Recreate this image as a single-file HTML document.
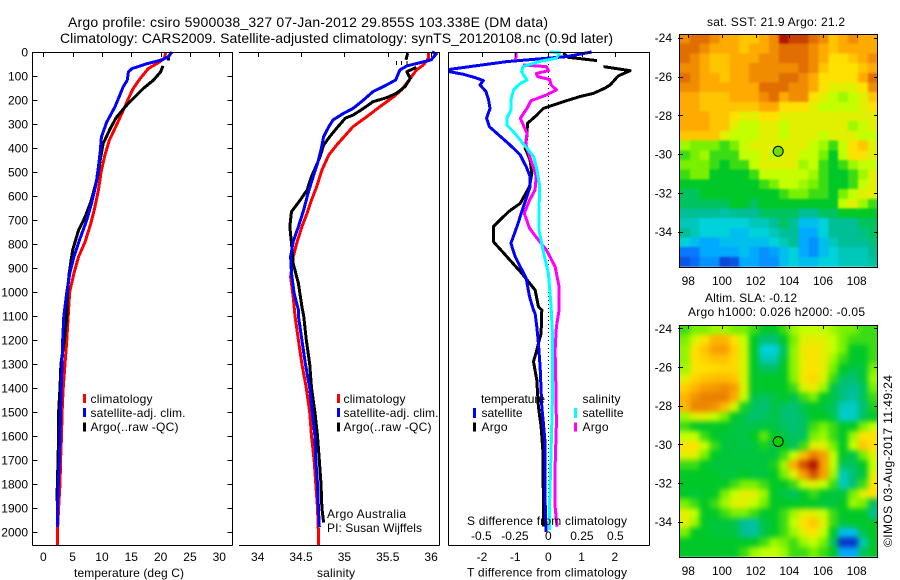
<!DOCTYPE html>
<html>
<head>
<meta charset="utf-8">
<title>Argo profile</title>
<style>
html,body{margin:0;padding:0;background:#fff;}
svg{display:block;}
text{font-family:"Liberation Sans",sans-serif;font-size:12px;fill:#000;}
.ttl{font-size:14px;}
.sm{font-size:12px;}
</style>
</head>
<body>
<svg id="chart" xmlns="http://www.w3.org/2000/svg" width="900" height="580" viewBox="0 0 900 580">
<defs>
<filter id="blurSst" filterUnits="userSpaceOnUse" x="640" y="0" width="260" height="300" color-interpolation-filters="sRGB"><feGaussianBlur stdDeviation="1"/></filter>
<filter id="blurSla" filterUnits="userSpaceOnUse" x="640" y="290" width="260" height="290" color-interpolation-filters="sRGB"><feGaussianBlur stdDeviation="2.6"/></filter>
<clipPath id="clipSst"><rect x="680" y="34" width="197.5" height="232.7"/></clipPath>
<clipPath id="clipSla"><rect x="680" y="325" width="197.5" height="231.7"/></clipPath>
</defs>
<rect x="0" y="0" width="900" height="580" fill="#fff"/>
<g id="maps"></g>
<g id="plots"></g>

<text class="ttl" x="68" y="27" textLength="480">Argo profile: csiro 5900038_327 07-Jan-2012 29.855S 103.338E (DM data)</text>
<text class="ttl" x="60" y="43" textLength="553">Climatology: CARS2009. Satellite-adjusted climatology: synTS_20120108.nc (0.9d later)</text>

<text x="74" y="577" textLength="110">temperature (deg C)</text>
<text x="317" y="577" textLength="38">salinity</text>
<text x="467" y="576.500" textLength="160">T difference from climatology</text>
<text x="467" y="525" textLength="160">S difference from climatology</text>

<g>
<rect x="83" y="394" width="3" height="9" fill="#f00"/>
<rect x="83" y="408" width="3" height="9" fill="#00f"/>
<rect x="83" y="422.500" width="3" height="9" fill="#000"/>
<text x="90.500" y="403" textLength="62">climatology</text>
<text x="90.500" y="417" textLength="95">satellite-adj. clim.</text>
<text x="90.500" y="431" textLength="88">Argo(..raw -QC)</text>
</g>
<g>
<rect x="337" y="394" width="3" height="9" fill="#f00"/>
<rect x="337" y="408" width="3" height="9" fill="#00f"/>
<rect x="337" y="422.500" width="3" height="9" fill="#000"/>
<text x="343.500" y="403" textLength="62">climatology</text>
<text x="343.500" y="417" textLength="95">satellite-adj. clim.</text>
<text x="343.500" y="431" textLength="88">Argo(..raw -QC)</text>
</g>
<g>
<text x="481" y="403" textLength="64">temperature</text>
<text x="582.500" y="403" textLength="38">salinity</text>
<rect x="473" y="408" width="3" height="10" fill="#00f"/>
<rect x="473" y="422.500" width="3" height="9" fill="#000"/>
<rect x="574" y="408" width="3" height="10" fill="#0ff"/>
<rect x="574" y="422.500" width="3" height="9" fill="#f0f"/>
<text x="481.500" y="417" textLength="41">satellite</text>
<text x="481.500" y="431" textLength="26">Argo</text>
<text x="582.500" y="417" textLength="41">satellite</text>
<text x="582.500" y="431" textLength="26">Argo</text>
</g>

<text x="327" y="518" textLength="79">Argo Australia</text>
<text x="327" y="532" textLength="95">PI: Susan Wijffels</text>

<text x="707" y="26" textLength="138">sat. SST: 21.9 Argo: 21.2</text>
<text x="705" y="302" textLength="92">Altim. SLA: -0.12</text>
<text x="688" y="316" textLength="177">Argo h1000: 0.026 h2000: -0.05</text>
<text transform="translate(892,547) rotate(-90)" x="0" y="0" textLength="172">©IMOS 03-Aug-2017 11:49:24</text>
</svg>

<script>
// ---------- axis tick values ----------
const depthTicks = [0,100,200,300,400,500,600,700,800,900,1000,1100,1200,1300,1400,1500,1600,1700,1800,1900,2000];
const tempTicks = [0,5,10,15,20,25,30];
const salTicks = [34,34.5,35,35.5,36];
const salTickLabels = ['34','34.5','35','35.5','36'];
const tDiffTicks = [-2,-1,0,1,2];
const tDiffLabels = ['-2','-1','0','1','2'];
const sDiffTicks = [-0.5,-0.25,0,0.25,0.5];
const sDiffLabels = ['-0.5','-0.25','0','0.25','0.5'];
const lonTicks = [98,100,102,104,106,108];
const latTicks = [-24,-26,-28,-30,-32,-34];

// ---------- temperature profiles ----------
const tempClimDepth = [0,28,49,69,111,153,194,250,319,368,430,493,576,646,715,792,854,924,1000,1100,1200,1300,1400,1500,1600,1700,1800,1900,2000,2054];
const tempClimValue = [20.9,20.6,19.3,17.9,16.5,15.3,14.5,13.5,12.2,11.25,10.5,9.9,9.4,8.8,8.1,7.1,6,5.2,4.5,4.25,4,3.7,3.4,3.2,3.1,2.95,2.85,2.6,2.4,2.4];
const tempSatDepth = [0,21,35,49,69,83,118,146,194,229,292,354,417,479,549,632,701,778,854,924,1000,1100,1200,1300,1400,1500,1600,1700,1800,1900,1980];
const tempSatValue = [21.9,21.3,19.9,17.6,15.1,14.5,14.3,13.6,12.8,12.2,10.8,9.9,9.7,9.4,9,8.2,7.4,6.25,5.2,4.5,4,3.5,3.3,3.2,3.05,2.95,2.85,2.75,2.55,2.4,2.4];
const tempArgoDepth = [14,35,45,58,83,118,153,187,222,271,319,382,451,521,625,688,743,826,924,1000,1100,1200,1300,1400,1500,1600,1700,1800,1870];
const tempArgoValue = [21.3,21.3,null,20.4,20,18.75,17,15.6,14.2,12.5,11.4,10.2,9.7,9.25,8.1,7.1,6,5,4.4,4.15,4,3.6,3,2.85,2.6,2.6,2.5,2.4,2.3];

// ---------- salinity profiles ----------
const salClimDepth = [0,26,54,75,110,158,186,228,269,311,388,429,492,561,617,672,728,797,853,936,1019,1100,1200,1300,1400,1500,1600,1700,1800,1900,2000,2054];
const salClimValue = [35.97,35.97,35.91,35.83,35.76,35.66,35.57,35.41,35.26,35.1,34.91,34.82,34.74,34.68,34.62,34.57,34.51,34.45,34.41,34.38,34.41,34.43,34.47,34.51,34.56,34.6,34.62,34.65,34.67,34.69,34.7,34.7];
const salSatDepth = [0,8,33,43,58,75,117,144,165,200,235,256,283,311,353,408,464,519,589,658,728,790,853,922,1005,1075,1100,1200,1300,1400,1500,1600,1700,1800,1900,1980];
const salSatValue = [36.01,36.06,36,35.89,35.72,35.64,35.59,35.45,35.33,35.22,35.1,34.99,34.87,34.82,34.76,34.73,34.69,34.64,34.58,34.53,34.47,34.41,34.38,34.39,34.42,34.47,34.47,34.51,34.55,34.6,34.63,34.66,34.67,34.69,34.7,34.71];
const salArgoDepth = [5,33,50,64,82,110,144,172,190,207,235,263,276,318,353,388,436,478,519,575,617,665,728,797,881,964,1061,1100,1200,1300,1400,1500,1600,1700,1800,1900,1960];
const salArgoValue = [35.73,35.71,null,35.83,35.72,35.76,35.7,35.6,35.49,35.33,35.22,35.1,35.01,34.91,34.83,34.76,34.72,34.67,34.62,34.57,34.49,34.39,34.37,34.39,34.41,34.47,34.51,34.53,34.56,34.6,34.62,34.66,34.69,34.71,34.73,34.74,34.76];
const salRawMarks = [35.6,35.66,35.72];
const salRawDepth = 45;

// ---------- difference profiles ----------
const tDiffSatDepth = [0,19,40,72,82,93,107,119,137,165,200,235,276,311,350,388,429,478,519,561,644,728,797,853,943,1019,1075,1089,1144,1214,1311,1478,1547,1630,1727,1867,2000];
const tDiffSatValue = [1.3,0.55,-1.25,-2.96,-2.98,-2.56,-2.2,-1.96,-2.06,-1.88,-1.8,-1.76,-1.86,-1.78,-1.46,-1.15,-0.85,-0.67,-0.55,-0.55,-0.75,-0.95,-1.13,-1,-0.67,-0.57,-0.45,-0.4,-0.35,-0.3,-0.25,-0.2,-0.15,-0.1,-0.1,-0.1,-0.07];
const tDiffArgoDepth = [5,22,36,45,61,78,100,137,151,172,186,207,228,235,263,297,353,401,450,505,561,631,665,728,790,853,922,992,1061,1075,1172,1242,1290,1367,1478,1561,1658,1867,1978];
const tDiffArgoValue = [0.45,0.6,1.46,null,1.66,2.46,2.1,1.86,1.7,1.36,0.95,0.45,0,-0.15,-0.35,-0.63,-0.65,-0.7,-0.55,-0.5,-0.57,-0.85,-1.2,-1.66,-1.66,-1.25,-0.8,-0.4,-0.3,-0.2,-0.22,-0.35,-0.45,-0.35,-0.3,-0.22,-0.17,-0.15,-0.15];
const sDiffSatDepth = [0,3,26,40,61,82,117,131,158,200,242,276,304,339,381,436,492,561,658,742,825,922,1061,1172,1450,1658,1867,1992];
const sDiffSatValue = [0.01,0.085,0.06,-0.07,-0.19,-0.2,-0.16,-0.21,-0.26,-0.28,-0.28,-0.31,-0.31,-0.25,-0.19,-0.11,-0.085,-0.065,-0.07,-0.07,-0.04,0,0.02,0.03,0.03,0.02,0.01,0.01];
const sDiffArgoDepth = [0,33,45,54,61,78,89,103,114,137,158,179,203,235,276,339,381,443,519,575,617,672,735,790,825,894,978,1075,1144,1242,1381,1547,1727,1894,1978];
const sDiffArgoValue = [-0.24,-0.245,null,-0.19,-0.015,0,-0.09,-0.08,0.01,0.02,0.06,-0.015,-0.13,-0.16,-0.21,-0.16,-0.17,-0.135,-0.09,-0.1,-0.14,-0.18,-0.14,-0.065,-0.015,0.05,0.08,0.08,0.06,0.05,0.055,0.06,0.05,0.05,0.065];

// ---------- sea surface temperature map (colour levels, north to south) ----------
const sstGrid = [
[9.5,10,10,9.5,9,9,8.5,8.5,9,9.5,11,10.5,10.5,10,9.5,8.5,9,9.5,9,9],
[10,10,9.5,9,9,9,8.5,9,9,9.5,10,10,10,9.5,9,8.5,9,9,9,9],
[10,9.5,9,8.5,8.5,9,9,9,9.5,9.5,10,10,10,9.5,9,8,8,8.5,9,9.5],
[9.5,9.5,9,8.5,8.5,9,9,9.5,9.5,9.5,9.5,9.5,10,9.5,8.5,8,8,8,8.5,9],
[10,9.5,9,9,8.5,9,9,9.5,9.5,9.5,10,10,9.5,9,8,8,8,8,9,10],
[9.5,9.5,9,9,9,9,9,9,10,10,10,9.5,9.5,9,8,7.5,7.5,7.5,8,9.5],
[9,9,8.5,8.5,8.5,9,9,9,9.5,10,9,9.5,9.5,8,7.5,7,6.5,7,7.5,8.5],
[9,9,8.5,8.5,8.5,8.5,8.5,8.5,9,9,8,8,8,7.5,7,7,7,7,7.5,8],
[9,9,9,8.5,8.5,8,7.5,7.5,8,8,7.5,7.5,7.5,7.5,7.5,7.5,7.5,7.5,7.5,7.5],
[9,9,9,8.5,8.5,7.5,7,7,7.5,7.5,7,7.5,7.5,7.5,7.5,7.5,7.5,6.5,7,7.5],
[8.5,8.5,8.5,8.5,7.5,7,7,7,7.5,7.5,7,7.5,7.5,7.5,7,7.5,7.5,7.5,7,7],
[6.5,6,6,6,5.5,6,7,7.5,7.5,7.5,7.5,7.5,7.5,7,6.5,5.5,7,8,8.5,7.5],
[5.5,6,6.5,5.5,5.5,5.5,7,7,7.5,7,7.5,7.5,7,7,6,5,7,8,8,7.5],
[6,6,6,5.5,5,5.5,5.5,7,7.5,7.5,7.5,7.5,6.5,7,5.5,5,5.5,6.5,7,7],
[5.5,6,6,5,5,5,5,5.5,7,7,7,7,7,6.5,5.5,5,5,5.5,6.5,7.5],
[5,5,5,5,5,5,5,5,5.5,6,7,7,6.5,6,5.5,5,5,5.5,7,7.5],
[4.5,4.5,5,5,5,5,5,5,5,5,5.5,6,6,5.5,5.5,5,6,7,7.5,7.5],
[4.5,4.5,4.5,4.5,4.5,5,5,4.5,5,5,5,5,5,5,5,5,7,7.5,6.5,5.5],
[4,4,4,4,3.8,4,4,4,4.5,4.5,4.5,4.5,4,4,4.5,4.5,5,5,5,5],
[3.5,3.5,3,3,3,3,3,3.5,3.5,4,4.5,4,2.5,2.5,3,4,4,4,4.5,4.5],
[4,3.5,3,3,3,2.5,2.5,3,3,3.5,4,4,2,2,3,4,4,4,4.2,4.5],
[3,2.5,2,2,2.5,2.5,2.5,2.5,2.5,3,3.5,4,2,1.5,2.5,3.5,4,4,4,4.2],
[1,1,2,2,2,2,2.5,2,1.5,1.8,2.5,3,2,1.5,2.5,3,3.5,3.5,3.5,4],
[0.5,0.8,1.5,1.5,0.3,0.5,2,2,1.5,1.5,2.5,3,2.5,2.5,3,3,3.5,3.5,3.5,3.8]
];

// ---------- sea level anomaly map (colour levels, north to south) ----------
const slaGrid = [
[5.5,6,6,6.5,6.5,6,6,5.5,5,5,5.5,6.5,7,7,7,6.5,6,6,5.5,5.5],
[6,7.3,8,8.8,8.8,8,7,5,4.3,4.3,5,6,7.5,7.6,7.5,7,6,5.5,5.5,5.5],
[6.3,8,8.5,9.2,9.2,8.3,7.3,5,3,3,4.5,6.3,7.7,7.9,7.6,7,6,5,5,5.5],
[6.3,8,8.3,8.6,8.6,8.2,7.3,5,3.5,3.5,4.8,6.3,7.7,7.9,7.6,6.5,5.5,5,5,5.5],
[6.5,7.8,8,8.1,8.2,8.2,7.3,5,4.5,4.5,5,6.3,7.7,8,7.6,6,5,4.7,4.8,6],
[7.5,8.2,8.5,8.7,8.7,8.5,7.3,5,5,5,5,6.2,7.8,8.2,7.3,5.5,4.5,4.3,4.8,6.5],
[8.3,8.8,9.2,9.3,9.5,9.2,7.5,5,5,5,5,5.5,7.3,7.7,6.5,4.7,4.2,4,4.5,6],
[8.8,9.4,9.7,9.7,9.7,9,7,4.7,4.5,4.7,5,4.7,5.5,6,5,4.7,4.2,3.8,4.5,5.5],
[8.8,9.6,9.6,9.4,8.7,7.3,5.2,4.5,4.3,4.7,4.5,4.3,4.7,5,4.8,4.5,3.4,3.3,4.3,5.2],
[6.5,7.5,7.5,7,6,5,4.7,4.3,4.5,4.7,4.3,4.3,4.5,5,5,4.7,3.2,3.3,4.5,5],
[5.5,5,5,5,5,4.8,4.7,4.7,4.8,4.7,4.5,4.3,4.5,5.5,6,5.5,5,5,6,7],
[7,7,5.5,5,4.8,4.8,4.7,5,5.8,5,4.7,4.5,4.5,6,6.5,5.5,5,6.5,8,8],
[8,8,7,5.5,4.8,4.8,4.7,4.8,5.2,4.8,5,4.5,5.5,7.5,7.5,6,5,7,8.5,8],
[7.5,7.5,6,5,4.8,4.8,4.8,4.8,4.8,4.8,5.5,7,8.7,9.7,9.2,7,5,4.7,6,7.5],
[5.5,5.5,5,4.8,4.8,4.8,4.8,4.8,4.8,5.2,6.5,9,10.3,11,9.2,7,4.5,4.5,5,7],
[5,5,5,5,4.8,4.8,5,4.8,4.8,5,6,7.5,9.2,10.3,9.2,6.5,3.4,4.3,4.8,7.5],
[5,5,5,5,5,5.5,6,6,5.5,5,5,5.5,7,7.5,7,5.5,3.4,4.3,5.5,8],
[5,4.8,5,5,6,7,7.5,7.5,6.5,5,4.7,4.5,5,5.5,5,4.8,4.8,6,7.5,8],
[6,5.5,5,5.5,6.5,7.5,7.5,7,6,5,5,5,5,5,4.8,4.8,5,6.5,6,4.5],
[7.5,7,5,5,5.5,6,6,5.5,5,5,5.5,6.5,7.5,7.5,7,5.5,5,5,5,4],
[7.5,6.5,5,4.8,4.8,4.7,4,3.8,4.7,5,5.5,7,8,8.5,7.5,5.5,4.8,5,5,5],
[6,5,5,4.8,4.8,4.8,4,3.8,4.7,5,5.5,6.5,7.5,8,7,5,2.5,2.5,4.7,5],
[5,5,5,5,5,5,5,5,5.5,6.5,6,5.5,6.5,7,6,4.5,0,0,3.5,5],
[5,5,5,5,5,5,5.5,6.5,7,7,6.5,5.5,5.5,6,5.5,5,2,2,4.5,5]
];

const floatLon = [103.338];
const floatLat = [-29.855];

// ---------- scales ----------
const NS = 'http://www.w3.org/2000/svg';
const yDepth = d => 52 + 0.24 * d;
const xTemp = v => 43.3 + 5.867 * v;
const xSal = v => 257.7 + 86.7 * (v - 34);
const xTDiff = v => 548.4 + 33.2 * v;
const xSDiff = v => 548.4 + 134 * v;
const xLon = v => 688.3 + 16.84 * (v - 98);
const ySst = v => 37.7 + 19.4 * (-24 - v);
const ySla = v => 328.3 + 19.33 * (-24 - v);

const plots = document.getElementById('plots');
const maps = document.getElementById('maps');

function mk(tag, attrs, parent) {
  const el = document.createElementNS(NS, tag);
  for (const k in attrs) el.setAttribute(k, attrs[k]);
  parent.appendChild(el);
  return el;
}

function drawSeries(depths, values, xFn, color, width, name) {
  let segs = [], cur = [];
  depths.forEach((d, i) => {
    if (values[i] === null) { if (cur.length) segs.push(cur); cur = []; }
    else cur.push(xFn(values[i]).toFixed(1) + ',' + yDepth(d).toFixed(1));
  });
  if (cur.length) segs.push(cur);
  segs.forEach(s => {
    const el = mk('polyline', {points: s.join(' '), fill: 'none', stroke: color, 'stroke-width': width, 'stroke-linejoin': 'round', 'stroke-linecap': 'butt', 'shape-rendering': 'crispEdges'}, plots);
    
    
  });
}

function axisLine(x1, y1, x2, y2) {
  const el = mk('line', {x1, y1, x2, y2, stroke: '#000', 'stroke-width': 1, 'shape-rendering': 'crispEdges'}, plots);
  
  
}
function tickMark(x1, y1, x2, y2, parent) {
  const el = mk('line', {x1, y1, x2, y2, stroke: '#000', 'stroke-width': 1, 'shape-rendering': 'crispEdges'}, parent);
  
  
}
function tickLabel(x, y, str, anchor, parent) {
  const el = mk('text', {x, y, 'text-anchor': anchor}, parent);
  el.textContent = str;
  
  
}

// ---------- series ----------
drawSeries(tempClimDepth, tempClimValue, xTemp, '#f00', 3, 'temperature-climatology-line');
drawSeries(tempArgoDepth, tempArgoValue, xTemp, '#000', 3, 'temperature-argo-line');
drawSeries(tempSatDepth, tempSatValue, xTemp, '#00f', 3, 'temperature-satellite-line');

drawSeries(salClimDepth, salClimValue, xSal, '#f00', 3, 'salinity-climatology-line');
drawSeries(salArgoDepth, salArgoValue, xSal, '#000', 3, 'salinity-argo-line');
drawSeries(salSatDepth, salSatValue, xSal, '#00f', 3, 'salinity-satellite-line');
salRawMarks.forEach(v => {
  const el = mk('line', {x1: xSal(v), x2: xSal(v), y1: yDepth(salRawDepth) - 2, y2: yDepth(salRawDepth) + 2, stroke: '#000', 'stroke-width': 1, 'shape-rendering': 'crispEdges'}, plots);
  
  
});

const zeroLine = mk('line', {x1: xTDiff(0), x2: xTDiff(0), y1: yDepth(0), y2: yDepth(2000), stroke: '#000', 'stroke-width': 1, 'stroke-dasharray': '1 3', 'shape-rendering': 'crispEdges'}, plots);



drawSeries(tDiffArgoDepth, tDiffArgoValue, xTDiff, '#000', 3, 't-difference-argo-line');
drawSeries(tDiffSatDepth, tDiffSatValue, xTDiff, '#00f', 3, 't-difference-satellite-line');
drawSeries(sDiffArgoDepth, sDiffArgoValue, xSDiff, '#f0f', 3, 's-difference-argo-line');
drawSeries(sDiffSatDepth, sDiffSatValue, xSDiff, '#0ff', 3, 's-difference-satellite-line');

// ---------- panel frames ----------
axisLine(32.5, 52.5, 232.5, 52.5);
axisLine(32.5, 52, 32.5, 545.5);
axisLine(232.5, 52, 232.5, 545.5);
axisLine(32.5, 545.5, 232.5, 545.5);
axisLine(239, 52.5, 439.5, 52.5);
axisLine(439.5, 52, 439.5, 545.5);
axisLine(239, 545.5, 439.5, 545.5);
axisLine(448.5, 52.5, 649.5, 52.5);
axisLine(448.5, 52, 448.5, 545.5);
axisLine(649.5, 52, 649.5, 545.5);
axisLine(448.5, 545.5, 649.5, 545.5);

// ---------- profile ticks ----------
depthTicks.forEach(d => {
  const y = Math.round(yDepth(d)) + 0.5;
  tickMark(32.5, y, 37.5, y, plots);
  tickMark(227.5, y, 232.5, y, plots);
  tickLabel(28, yDepth(d) + 4.5, String(d), 'end', plots);
});
tempTicks.forEach(v => {
  const x = Math.round(xTemp(v)) + 0.5;
  tickMark(x, 52, x, 57, plots);
  tickLabel(xTemp(v), 561, String(v), 'middle', plots);
});
salTicks.forEach((v, i) => {
  const x = Math.round(xSal(v)) + 0.5;
  tickMark(x, 52, x, 57, plots);
  tickLabel(xSal(v), 561, salTickLabels[i], 'middle', plots);
});
tDiffTicks.forEach((v, i) => {
  const x = Math.round(xTDiff(v)) + 0.5;
  tickMark(x, 52, x, 57, plots);
  tickLabel(xTDiff(v), 561, tDiffLabels[i], 'middle', plots);
});
sDiffTicks.forEach((v, i) => {
  tickLabel(xSDiff(v), 540, sDiffLabels[i], 'middle', plots);
});

// ---------- colour scale ----------
const levelStops = [[10,50,200],[10,120,255],[0,170,255],[0,210,220],[0,190,150],[0,200,40],[120,240,0],[195,255,0],[255,225,0],[255,170,0],[224,110,0],[180,20,0]];
function levelColor(v) {
  const i = Math.max(0, Math.min(levelStops.length - 2, Math.floor(v)));
  const t = Math.max(0, Math.min(1, v - i));
  const c = levelStops[i].map((a, k) => Math.round(a + (levelStops[i + 1][k] - a) * t));
  return 'rgb(' + c.join(',') + ')';
}

// ---------- heatmaps ----------
function drawMap(grid, yFn, latTop, latBottom, clipId, filterId, name) {
  const lonLeft = 97.5, lonRight = 109.25;
  const outer = mk('g', {'clip-path': 'url(#' + clipId + ')'}, maps);
  
  
  const inner = mk('g', {filter: 'url(#' + filterId + ')', 'shape-rendering': 'crispEdges'}, outer);
  
  
  const rows = grid.length, cols = grid[0].length;
  const dLon = (lonRight - lonLeft) / cols, dLat = (latTop - latBottom) / rows;
  grid.forEach((row, r) => row.forEach((v, c) => {
    const pad = 14;
    let x0 = xLon(lonLeft + c * dLon), x1 = xLon(lonLeft + (c + 1) * dLon) + 0.5;
    let y0 = yFn(latTop - r * dLat), y1 = yFn(latTop - (r + 1) * dLat) + 0.5;
    if (c === 0) x0 -= pad;
    if (c === cols - 1) x1 += pad;
    if (r === 0) y0 -= pad;
    if (r === rows - 1) y1 += pad;
    const cell = mk('rect', {x: x0.toFixed(1), y: y0.toFixed(1), width: (x1 - x0).toFixed(1), height: (y1 - y0).toFixed(1), fill: levelColor(v)}, inner);
    
    
  }));
}
drawMap(sstGrid, ySst, -23.81, -35.8, 'clipSst', 'blurSst', 'sst-map');
drawMap(slaGrid, ySla, -23.83, -35.81, 'clipSla', 'blurSla', 'sla-map');

// ---------- map frames, ticks, markers ----------
function mapFrame(top, bottom, yFn, labelY, dotFill, name) {
  const frame = mk('rect', {x: 679.5, y: top + 0.5, width: 198, height: bottom - top, fill: 'none', stroke: '#000', 'stroke-width': 1, 'shape-rendering': 'crispEdges'}, maps);
  
  
  lonTicks.forEach(v => {
    const x = Math.round(xLon(v)) + 0.5;
    tickMark(x, top, x, top + 4, maps);
    tickLabel(xLon(v), labelY, String(v), 'middle', maps);
  });
  latTicks.forEach(v => {
    const y = Math.round(yFn(v)) + 0.5;
    tickMark(678, y, 683, y, maps);
    tickMark(874, y, 878, y, maps);
    tickLabel(672, yFn(v) + 4.5, String(v), 'end', maps);
  });
  const dot = mk('circle', {cx: xLon(floatLon[0]), cy: yFn(floatLat[0]), r: 5, fill: dotFill, stroke: '#000', 'stroke-width': 1}, maps);
  
  
}
mapFrame(34, 267, ySst, 285, '#6ee000', 'sst-map');
mapFrame(325, 557, ySla, 575, '#10d000', 'sla-map');
</script>
</body>
</html>
